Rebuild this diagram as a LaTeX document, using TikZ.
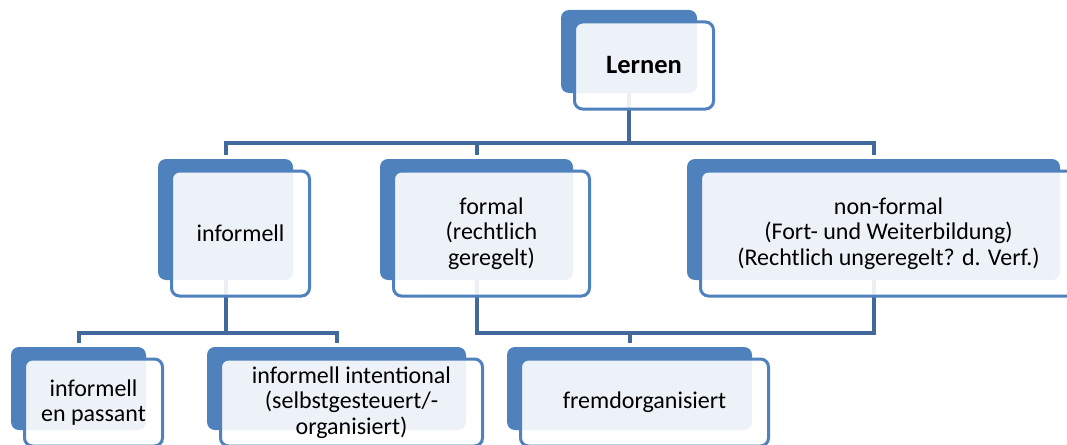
\documentclass[tikz,border=0pt]{standalone}
\usepackage{fontspec}
\setmainfont{Carlito}
\usetikzlibrary{backgrounds}

\definecolor{boxblue}{HTML}{4F81BD}
\definecolor{lineblue}{HTML}{41699B}

\tikzset{
    backbox/.style={rectangle, rounded corners=8pt, fill=boxblue, inner sep=0pt},
    frontbox/.style={rectangle, rounded corners=8pt, draw=boxblue, line width=3pt,
        fill=white, fill opacity=0.9, text opacity=1, align=center, inner sep=0pt,
        font=\fontsize{24}{25.5}\selectfont},
    conn/.style={draw=lineblue, line width=4pt}
}

\begin{document}
\begin{tikzpicture}[x=1pt, y=-1pt]
            \useasboundingbox (0,0) rectangle (1067,444);

            % Back boxes
            \node[backbox, minimum width=136pt, minimum height=83pt] (lernenB) at (629,51.5) {};
            \node[backbox, minimum width=135pt, minimum height=121pt] (informellB) at (225.5,219.5) {};
            \node[backbox, minimum width=193pt, minimum height=121pt] (formalB) at (476.5,219.5) {};
            \node[backbox, minimum width=373pt, minimum height=121pt] (nonformalB) at (873.5,219.5) {};
            \node[backbox, minimum width=135pt, minimum height=83pt] (passantB) at (78.5,388.5) {};
            \node[backbox, minimum width=259pt, minimum height=83pt] (intentionalB) at (336.5,388.5) {};
            \node[backbox, minimum width=245pt, minimum height=83pt] (fremdB) at (629.5,388.5) {};

            % Front boxes
            \node[frontbox, minimum width=139pt, minimum height=87pt, font=\fontsize{26.5}{28}\selectfont\bfseries] (lernen) at ([shift={(15,14)}]lernenB) {Lernen};
            \node[frontbox, minimum width=138pt, minimum height=125pt] (informell) at ([shift={(15,14)}]informellB) {informell};
            \node[frontbox, minimum width=196pt, minimum height=125pt] (formal) at ([shift={(15,14)}]formalB) {formal\\(rechtlich\\geregelt)};
            \node[frontbox, minimum width=376pt, minimum height=125pt] (nonformal) at ([shift={(15,14)}]nonformalB) {non-formal\\(Fort- und Weiterbildung)\\(Rechtlich ungeregelt? d. Verf.)};
            \node[frontbox, minimum width=138pt, minimum height=87pt] (passant) at ([shift={(15,14)}]passantB) {informell\\en passant};
            \node[frontbox, minimum width=262pt, minimum height=87pt] (intentional) at ([shift={(15,14)}]intentionalB) {informell intentional\\(selbstgesteuert/-\\organisiert)};
            \node[frontbox, minimum width=248pt, minimum height=87pt] (fremd) at ([shift={(15,14)}]fremdB) {fremdorganisiert};

            % Connectors
            \coordinate (busA) at (0,143);
            \coordinate (busB) at (0,332.5);
            \begin{scope}[on background layer]
                \draw[conn, shorten >=4pt] (lernenB) -- (lernenB |- busA) -| (informellB.north);
                \draw[conn, shorten >=4pt] (lernenB |- busA) -| (formalB.north);
                \draw[conn, shorten >=4pt] (lernenB |- busA) -| (nonformalB.north);
                \draw[conn, shorten >=4pt] (informellB) -- (informellB |- busB) -| (passantB.north);
                \draw[conn, shorten >=4pt] (informellB |- busB) -| (intentionalB.north);
                \draw[conn] (formalB) -- (formalB |- busB) -| (nonformalB);
                \draw[conn, shorten >=4pt] (fremdB |- busB) -- (fremdB.north);
            \end{scope}
        \end{tikzpicture}
\end{document}
